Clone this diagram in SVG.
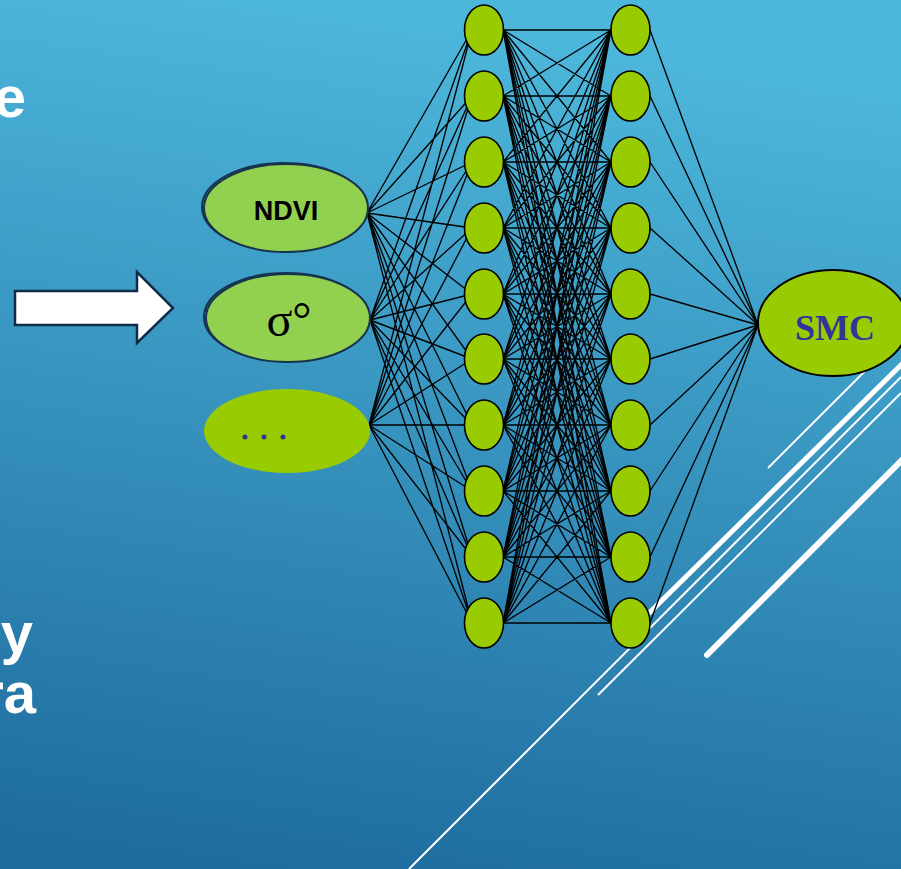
<svg xmlns="http://www.w3.org/2000/svg" width="901" height="869" viewBox="0 0 901 869">
  <defs>
    <linearGradient id="bg" x1="0.35" y1="0" x2="0.2" y2="1">
      <stop offset="0" stop-color="#4db7db"/>
      <stop offset="1" stop-color="#1e6b9e"/>
    </linearGradient>
  </defs>
  <style>
    .deco { stroke: #ffffff; fill: none; }
    .wire { stroke: #000000; stroke-width: 1.35; }
    .hid { fill: #99cc00; stroke: #000000; stroke-width: 1.6; }
    .inp { fill: #92d050; stroke: #17324e; stroke-width: 2; }
    .shadow { fill: none; stroke: #17324e; stroke-width: 2; }
    .side { font-family: "Liberation Sans", Arial, sans-serif; font-weight: bold; font-size: 58px; fill: #ffffff; }
  </style>

  <!-- background -->
  <rect x="0" y="0" width="901" height="869" fill="url(#bg)"/>

  <!-- decorative diagonal strokes -->
  <g id="decor">
    <line class="deco" x1="409" y1="869" x2="901" y2="377" stroke-width="2"/>
    <line class="deco" x1="598" y1="695" x2="901" y2="393" stroke-width="2"/>
    <line class="deco" x1="638" y1="624" x2="905" y2="361" stroke-width="5"/>
    <line class="deco" x1="707" y1="655" x2="910" y2="452" stroke-width="6" stroke-linecap="round"/>
    <line class="deco" x1="768" y1="468" x2="901" y2="335" stroke-width="2"/>
  </g>

  <!-- cropped side text -->
  <g id="side-text">
    <text class="side" x="26" y="117" text-anchor="end">e</text>
    <text class="side" x="33" y="653" text-anchor="end">y</text>
    <text class="side" x="36" y="713" text-anchor="end">ra</text>
  </g>

  <!-- block arrow -->
  <g id="arrow">
    <polygon points="15,291 137,291 137,272 173,308 137,343 137,325 15,325" fill="#ffffff" stroke="#0f2d4a" stroke-width="2.5" stroke-linejoin="miter"/>
  </g>

  <!-- connectors -->
  <g id="connectors" class="wire">
    <!-- input layer to hidden layer 1 -->
    <path d="
      M367,213 L472,30 M367,213 L472,96 M367,213 L472,162 M367,213 L472,228 M367,213 L472,294 M367,213 L472,359 M367,213 L472,425 M367,213 L472,491 M367,213 L472,557 M367,213 L472,623
      M370,320 L472,30 M370,320 L472,96 M370,320 L472,162 M370,320 L472,228 M370,320 L472,294 M370,320 L472,359 M370,320 L472,425 M370,320 L472,491 M370,320 L472,557 M370,320 L472,623
      M369,425 L472,30 M369,425 L472,96 M369,425 L472,162 M369,425 L472,228 M369,425 L472,294 M369,425 L472,359 M369,425 L472,425 M369,425 L472,491 M369,425 L472,557 M369,425 L472,623"/>
    <!-- hidden layer 1 to hidden layer 2 -->
    <path d="
      M503,30 L611,30 M503,30 L611,96 M503,30 L611,162 M503,30 L611,228 M503,30 L611,294 M503,30 L611,359 M503,30 L611,425 M503,30 L611,491 M503,30 L611,557 M503,30 L611,623
      M503,96 L611,30 M503,96 L611,96 M503,96 L611,162 M503,96 L611,228 M503,96 L611,294 M503,96 L611,359 M503,96 L611,425 M503,96 L611,491 M503,96 L611,557 M503,96 L611,623
      M503,162 L611,30 M503,162 L611,96 M503,162 L611,162 M503,162 L611,228 M503,162 L611,294 M503,162 L611,359 M503,162 L611,425 M503,162 L611,491 M503,162 L611,557 M503,162 L611,623
      M503,228 L611,30 M503,228 L611,96 M503,228 L611,162 M503,228 L611,228 M503,228 L611,294 M503,228 L611,359 M503,228 L611,425 M503,228 L611,491 M503,228 L611,557 M503,228 L611,623
      M503,294 L611,30 M503,294 L611,96 M503,294 L611,162 M503,294 L611,228 M503,294 L611,294 M503,294 L611,359 M503,294 L611,425 M503,294 L611,491 M503,294 L611,557 M503,294 L611,623
      M503,359 L611,30 M503,359 L611,96 M503,359 L611,162 M503,359 L611,228 M503,359 L611,294 M503,359 L611,359 M503,359 L611,425 M503,359 L611,491 M503,359 L611,557 M503,359 L611,623
      M503,425 L611,30 M503,425 L611,96 M503,425 L611,162 M503,425 L611,228 M503,425 L611,294 M503,425 L611,359 M503,425 L611,425 M503,425 L611,491 M503,425 L611,557 M503,425 L611,623
      M503,491 L611,30 M503,491 L611,96 M503,491 L611,162 M503,491 L611,228 M503,491 L611,294 M503,491 L611,359 M503,491 L611,425 M503,491 L611,491 M503,491 L611,557 M503,491 L611,623
      M503,557 L611,30 M503,557 L611,96 M503,557 L611,162 M503,557 L611,228 M503,557 L611,294 M503,557 L611,359 M503,557 L611,425 M503,557 L611,491 M503,557 L611,557 M503,557 L611,623
      M503,623 L611,30 M503,623 L611,96 M503,623 L611,162 M503,623 L611,228 M503,623 L611,294 M503,623 L611,359 M503,623 L611,425 M503,623 L611,491 M503,623 L611,557 M503,623 L611,623"/>
    <!-- hidden layer 2 to output -->
    <path d="
      M650,30 L758,325 M650,96 L758,325 M650,162 L758,325 M650,228 L758,325 M650,294 L758,325
      M650,359 L758,325 M650,425 L758,325 M650,491 L758,325 M650,557 L758,325 M650,623 L758,325"/>
  </g>

  <!-- input nodes -->
  <g id="in-ndvi">
    <ellipse class="shadow" cx="284" cy="207" rx="82" ry="44"/>
    <ellipse class="inp" cx="286" cy="208" rx="82" ry="44"/>
    <text x="286" y="220" text-anchor="middle" font-family="Liberation Sans, Arial, sans-serif" font-weight="bold" font-size="27" fill="#000000">NDVI</text>
  </g>
  <g id="in-sigma">
    <ellipse class="shadow" cx="286" cy="317" rx="82" ry="44"/>
    <ellipse class="inp" cx="288" cy="318" rx="82" ry="44"/>
    <text x="289" y="336" text-anchor="middle" font-family="Liberation Serif, Times New Roman, serif" font-size="48" fill="#000000">σ°</text>
  </g>
  <g id="in-more">
    <ellipse cx="287" cy="431" rx="83" ry="42" fill="#99cc00"/>
    <circle cx="245" cy="437" r="2.5" fill="#333399"/>
    <circle cx="264" cy="437" r="2.5" fill="#333399"/>
    <circle cx="283" cy="437" r="2.5" fill="#333399"/>
  </g>

  <!-- hidden layer 1 -->
  <g id="h1-1"><ellipse class="hid" cx="484" cy="30" rx="19.5" ry="25"/></g>
  <g id="h1-2"><ellipse class="hid" cx="484" cy="96" rx="19.5" ry="25"/></g>
  <g id="h1-3"><ellipse class="hid" cx="484" cy="162" rx="19.5" ry="25"/></g>
  <g id="h1-4"><ellipse class="hid" cx="484" cy="228" rx="19.5" ry="25"/></g>
  <g id="h1-5"><ellipse class="hid" cx="484" cy="294" rx="19.5" ry="25"/></g>
  <g id="h1-6"><ellipse class="hid" cx="484" cy="359" rx="19.5" ry="25"/></g>
  <g id="h1-7"><ellipse class="hid" cx="484" cy="425" rx="19.5" ry="25"/></g>
  <g id="h1-8"><ellipse class="hid" cx="484" cy="491" rx="19.5" ry="25"/></g>
  <g id="h1-9"><ellipse class="hid" cx="484" cy="557" rx="19.5" ry="25"/></g>
  <g id="h1-10"><ellipse class="hid" cx="484" cy="623" rx="19.5" ry="25"/></g>

  <!-- hidden layer 2 -->
  <g id="h2-1"><ellipse class="hid" cx="630.5" cy="30" rx="19.5" ry="25"/></g>
  <g id="h2-2"><ellipse class="hid" cx="630.5" cy="96" rx="19.5" ry="25"/></g>
  <g id="h2-3"><ellipse class="hid" cx="630.5" cy="162" rx="19.5" ry="25"/></g>
  <g id="h2-4"><ellipse class="hid" cx="630.5" cy="228" rx="19.5" ry="25"/></g>
  <g id="h2-5"><ellipse class="hid" cx="630.5" cy="294" rx="19.5" ry="25"/></g>
  <g id="h2-6"><ellipse class="hid" cx="630.5" cy="359" rx="19.5" ry="25"/></g>
  <g id="h2-7"><ellipse class="hid" cx="630.5" cy="425" rx="19.5" ry="25"/></g>
  <g id="h2-8"><ellipse class="hid" cx="630.5" cy="491" rx="19.5" ry="25"/></g>
  <g id="h2-9"><ellipse class="hid" cx="630.5" cy="557" rx="19.5" ry="25"/></g>
  <g id="h2-10"><ellipse class="hid" cx="630.5" cy="623" rx="19.5" ry="25"/></g>

  <!-- output node -->
  <g id="out-smc">
    <ellipse cx="833" cy="323" rx="75" ry="53" fill="#99cc00" stroke="#000000" stroke-width="2"/>
    <text x="835" y="340" text-anchor="middle" font-family="Liberation Serif, Times New Roman, serif" font-weight="bold" font-size="36" fill="#333399">SMC</text>
  </g>
</svg>
